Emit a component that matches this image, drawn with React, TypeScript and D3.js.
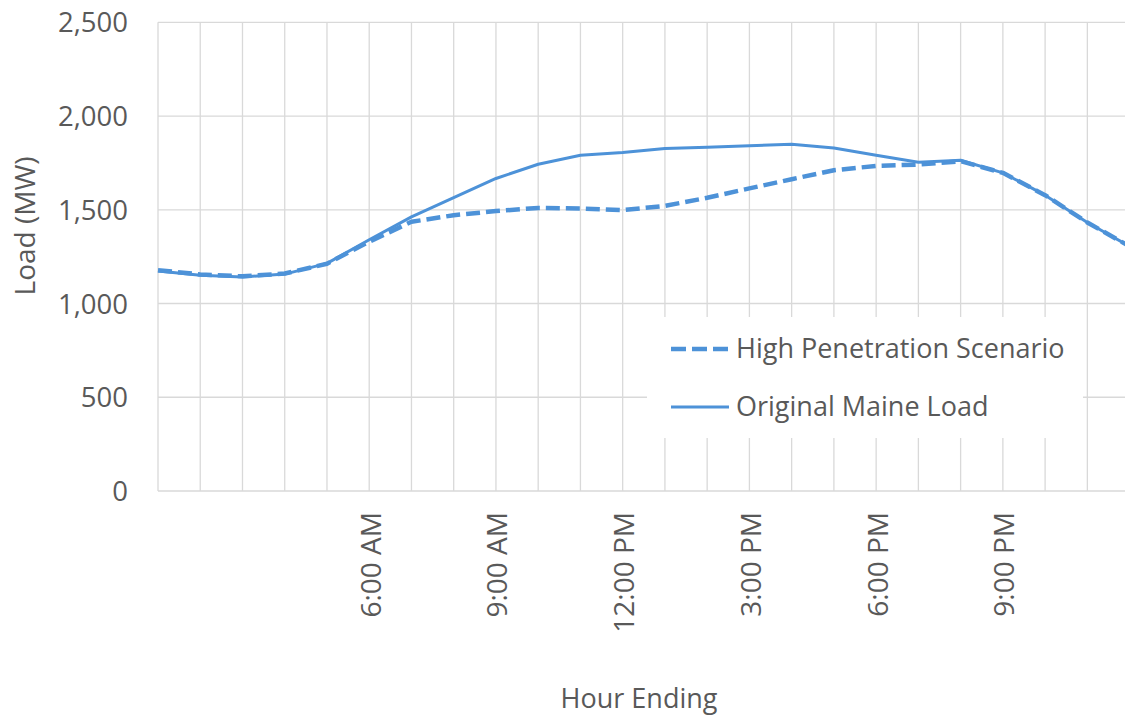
import React from "react";
import * as d3 from "d3";

const hours = [1, 2, 3, 4, 5, 6, 7, 8, 9, 10, 11, 12, 13, 14, 15, 16, 17, 18, 19, 20, 21, 22, 23, 24];
const originalLoad = [1174, 1151, 1142, 1157, 1214, 1340, 1462, 1565, 1667, 1743, 1791, 1805, 1827, 1834, 1841, 1850, 1830, 1791, 1754, 1764, 1697, 1578, 1432, 1305];
const highPenetration = [1178, 1155, 1145, 1160, 1212, 1330, 1436, 1471, 1493, 1510, 1507, 1498, 1521, 1564, 1614, 1663, 1711, 1734, 1741, 1759, 1697, 1578, 1432, 1305];
const tickHours = [6, 9, 12, 15, 18, 21];
const tickLabels = ["6:00 AM", "9:00 AM", "12:00 PM", "3:00 PM", "6:00 PM", "9:00 PM"];
const yTicks = [0, 500, 1000, 1500, 2000, 2500];
const seriesNames = ["High Penetration Scenario", "Original Maine Load"];

const W = 1125;
const H = 715;
const FONT = "'Open Sans', sans-serif";
const TEXT = "#595959";
const GRID = "#d9d9d9";
const BLUE = "#4d92d8";

export default function App() {
  const x = d3.scaleLinear().domain([1, 24]).range([158, 1129.6]);
  const y = d3.scaleLinear().domain([0, 2500]).range([491, 22.3]);
  const line = d3
    .line<number>()
    .x((_, i) => x(hours[i]))
    .y((d) => y(d));
  const fmt = d3.format(",");

  return (
    <svg
      width={W}
      height={H}
      style={{ position: "absolute", left: 0, top: 0, background: "#fff" }}
      fontFamily={FONT}
    >
      <rect x={0} y={0} width={W} height={H} fill="#fff" />
      {yTicks.map((t) => (
        <line key={"h" + t} x1={x(1)} x2={x(24)} y1={y(t)} y2={y(t)} stroke={GRID} strokeWidth={1.3} />
      ))}
      {hours.map((h) => (
        <line key={"v" + h} x1={x(h)} x2={x(h)} y1={y(2500)} y2={y(0)} stroke={GRID} strokeWidth={1.3} />
      ))}
      {yTicks.map((t) => (
        <text key={"yt" + t} x={128} y={y(t) + 10} textAnchor="end" fontSize={27.5} fill={TEXT}>
          {fmt(t)}
        </text>
      ))}
      {tickHours.map((h, i) => (
        <text
          key={"xt" + h}
          transform={`translate(${x(h) + 11.5},512) rotate(-90)`}
          textAnchor="end"
          fontSize={28}
          fill={TEXT}
        >
          {tickLabels[i]}
        </text>
      ))}
      <text x={639} y={708} textAnchor="middle" fontSize={27} fill={TEXT}>
        Hour Ending
      </text>
      <text transform="translate(35,226) rotate(-90)" textAnchor="middle" fontSize={28} fill={TEXT}>
        Load (MW)
      </text>
      <path d={line(originalLoad) || ""} fill="none" stroke={BLUE} strokeWidth={3} strokeLinejoin="round" />
      <path
        d={line(highPenetration) || ""}
        fill="none"
        stroke={BLUE}
        strokeWidth={4.5}
        strokeDasharray="14,6"
        strokeLinejoin="round"
      />
      <rect x={647} y={317} width={436} height={121} fill="#fff" />
      <line x1={671} x2={729} y1={349} y2={349} stroke={BLUE} strokeWidth={4.5} strokeDasharray="15,6" />
      <text x={736} y={358} fontSize={27} fill={TEXT}>
        {seriesNames[0]}
      </text>
      <line x1={671} x2={729} y1={407} y2={407} stroke={BLUE} strokeWidth={3} />
      <text x={736} y={416} fontSize={27} fill={TEXT}>
        {seriesNames[1]}
      </text>
    </svg>
  );
}
